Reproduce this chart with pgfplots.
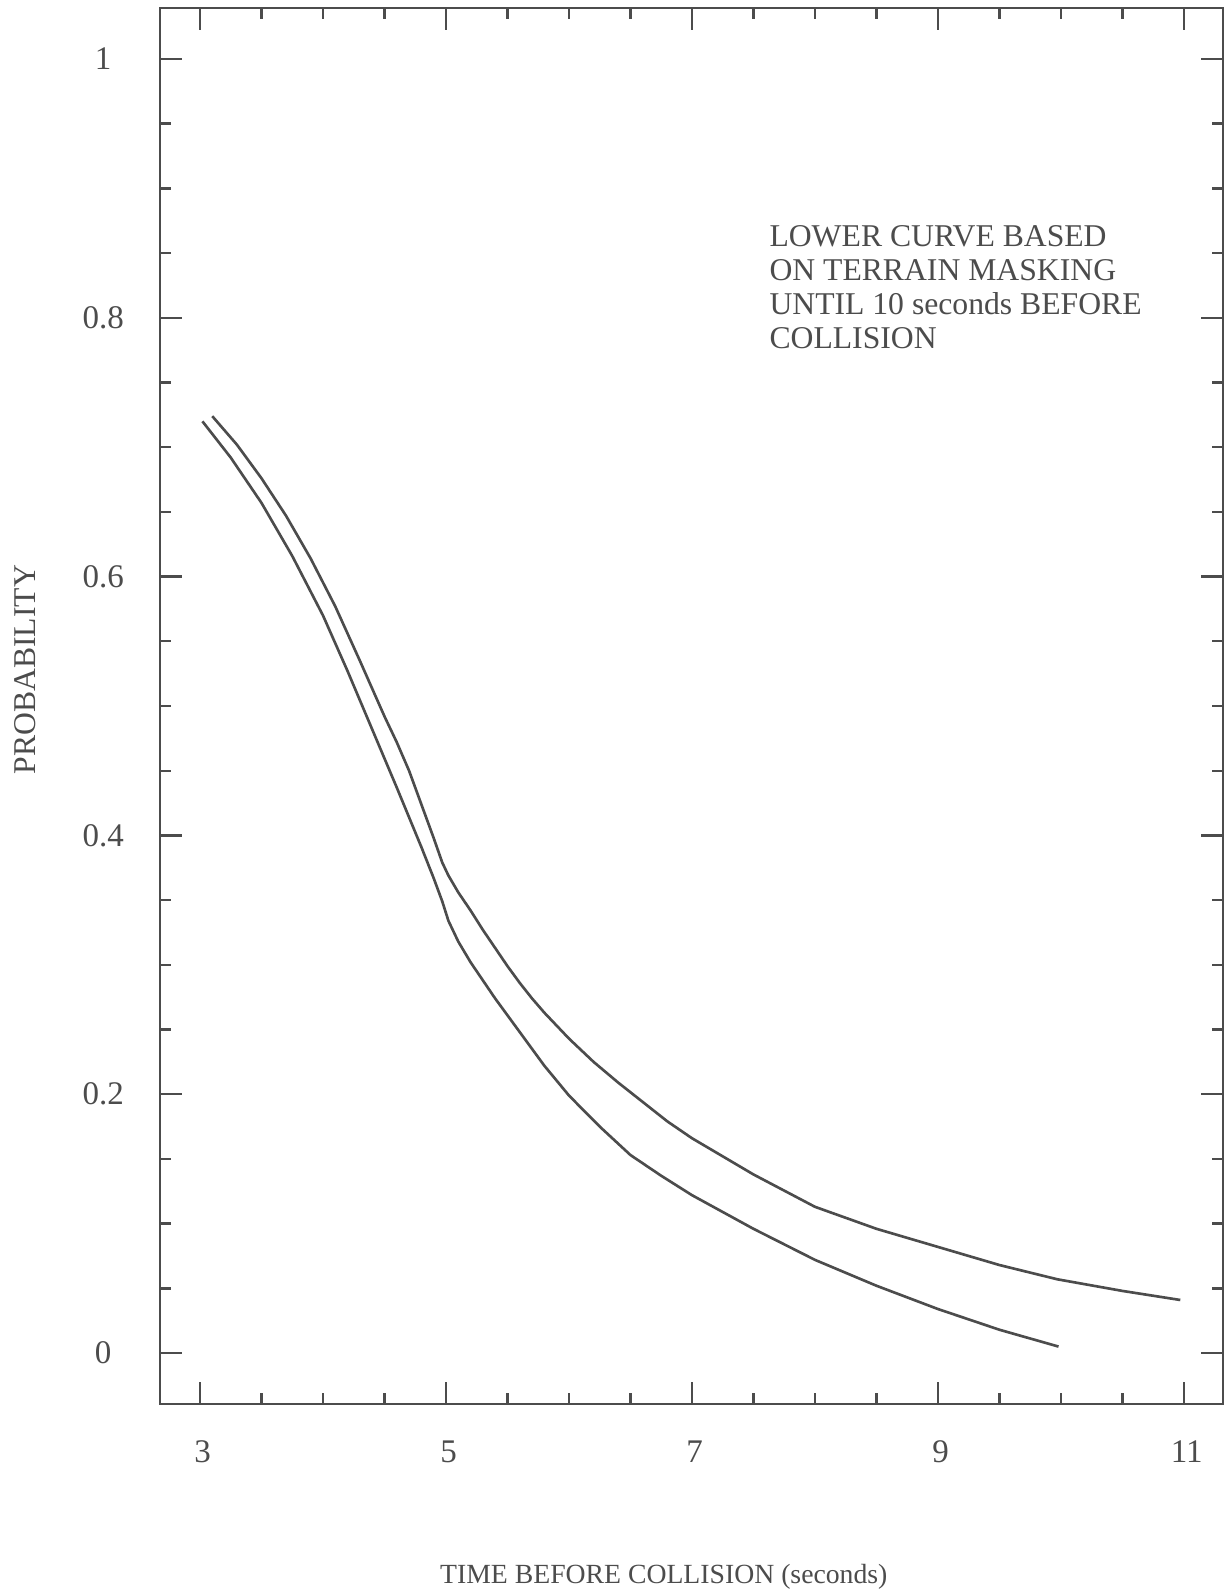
\documentclass[border=0pt]{standalone}
\usepackage{fontspec}
\setmainfont{Liberation Serif}
\usepackage{pgfplots}
\pgfplotsset{compat=1.18}
\definecolor{ink}{gray}{0.30}
\pgfplotstableread{
x y
3.02 0.720
3.25 0.692
3.50 0.657
3.75 0.616
4.00 0.570
4.20 0.527
4.40 0.482
4.60 0.437
4.80 0.391
4.90 0.367
4.97 0.349
5.02 0.334
5.10 0.318
5.20 0.302
5.30 0.288
5.40 0.274
5.50 0.261
5.60 0.248
5.80 0.222
6.00 0.199
6.25 0.175
6.50 0.153
6.75 0.137
7.00 0.122
7.50 0.096
8.00 0.072
8.50 0.052
9.00 0.034
9.50 0.018
9.98 0.005
}\lowercurve
\pgfplotstableread{
x y
3.10 0.724
3.30 0.702
3.50 0.676
3.70 0.647
3.90 0.614
4.10 0.577
4.30 0.535
4.50 0.492
4.60 0.472
4.70 0.450
4.80 0.424
4.90 0.398
4.97 0.379
5.02 0.369
5.10 0.356
5.20 0.342
5.30 0.327
5.40 0.313
5.50 0.299
5.60 0.286
5.70 0.274
5.80 0.263
6.00 0.243
6.20 0.225
6.40 0.209
6.60 0.194
6.80 0.179
7.00 0.166
7.50 0.138
8.00 0.113
8.50 0.096
9.00 0.082
9.50 0.068
9.97 0.057
10.50 0.048
10.97 0.041
}\uppercurve
\begin{document}
\begin{tikzpicture}
\begin{axis}[
  scale only axis,
  width=402.65pt, height=528.8pt,
  xmin=2.675, xmax=11.317,
  ymin=-0.0394, ymax=1.0394,
  axis line style={ink, line width=0.9pt},
  every tick/.style={ink, line width=0.9pt},
  tick align=inside,
  major tick length=8.5pt,
  minor tick length=4.3pt,
  xtick={3,5,7,9,11},
  minor xtick={3.5,4,4.5,5.5,6,6.5,7.5,8,8.5,9.5,10,10.5},
  ytick={0,0.2,0.4,0.6,0.8,1},
  yticklabels={0,0.2,0.4,0.6,0.8,1},
  minor ytick={0.05,0.1,0.15,0.25,0.3,0.35,0.45,0.5,0.55,0.65,0.7,0.75,0.85,0.9,0.95},
  /pgf/number format/assume math mode=true,
  xticklabel style={anchor=center, yshift=-18.2pt, xshift=1pt, text=ink, font=\fontsize{12.5}{14}\selectfont},
  yticklabel style={anchor=center, xshift=-21.5pt, text=ink, font=\fontsize{12.5}{14}\selectfont},
  xlabel={TIME BEFORE COLLISION (seconds)},
  ylabel={PROBABILITY},
  every axis x label/.style={at={(rel axis cs:0.474,-0.1282)}, anchor=base, text=ink, font=\fontsize{10.5}{12}\selectfont},
  every axis y label/.style={at={(rel axis cs:-0.127,0.526)}, anchor=center, rotate=90, text=ink, font=\fontsize{12}{14}\selectfont},
  clip=false,
]
\addplot[ink, line width=1.0pt, line join=round] table[x=x,y=y] {\lowercurve};
\addplot[ink, line width=1.0pt, line join=round] table[x=x,y=y] {\uppercurve};
\node[anchor=north west, align=left, inner sep=0pt, text=ink, font=\fontsize{12}{12.9}\selectfont]
  at (axis cs:7.626,0.8717) {LOWER CURVE BASED\\ON TERRAIN MASKING\\UNTIL 10 seconds BEFORE\\COLLISION};
\end{axis}
\path (current axis.south west) ++(-60.6pt,-71.2pt) coordinate (A);
\path (current axis.north east) ++(3.03pt,3.03pt) coordinate (B);
\pgfresetboundingbox
\path (A) rectangle (B);
\end{tikzpicture}
\end{document}
